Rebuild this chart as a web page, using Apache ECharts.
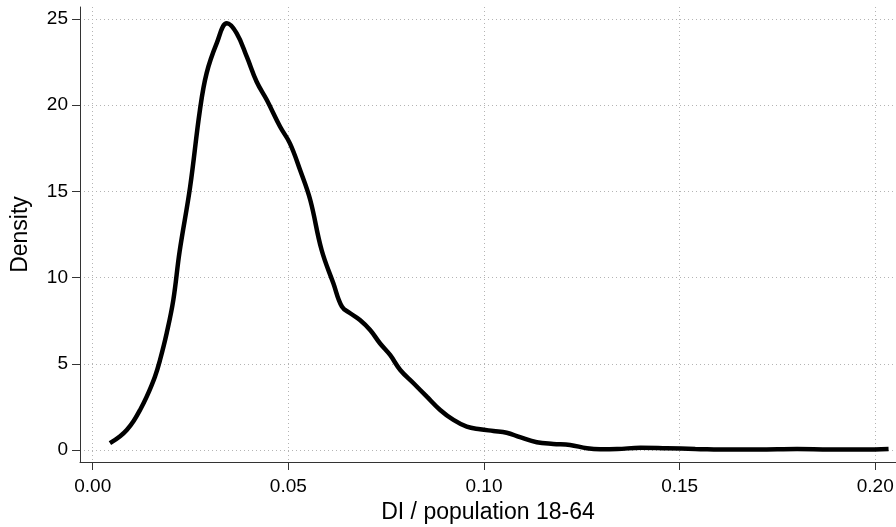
<!DOCTYPE html>
<html>
<head>
<meta charset="utf-8">
<script src="https://cdn.jsdelivr.net/npm/echarts@6/dist/echarts.min.js"></script>
<style>html,body{margin:0;padding:0;background:#fff;}#c{width:896px;height:527px;}</style>
</head>
<body>
<div id="c"></div>
<script>
const xTicks = [0, 0.05, 0.10, 0.15, 0.20];
const yTicks = [0, 5, 10, 15, 20, 25];
const xValues = [0.0044, 0.0070, 0.0087, 0.0105, 0.0121, 0.0138, 0.0159, 0.0172, 0.0189, 0.0206, 0.0222, 0.0249, 0.0274, 0.0291, 0.0317, 0.0343, 0.0368, 0.0394, 0.0419, 0.0445, 0.0479, 0.0504, 0.0530, 0.0556, 0.0585, 0.0615, 0.0637, 0.0658, 0.0683, 0.0709, 0.0734, 0.0760, 0.0786, 0.0820, 0.0854, 0.0888, 0.0922, 0.0956, 0.0990, 0.1024, 0.1058, 0.1092, 0.1135, 0.1177, 0.1220, 0.1263, 0.1297, 0.1340, 0.1400, 0.1467, 0.1540, 0.1630, 0.1700, 0.1800, 0.1885, 0.1970, 0.2034];
const density = [0.39, 0.80, 1.16, 1.70, 2.32, 3.09, 4.25, 5.22, 6.77, 8.70, 11.50, 15.27, 19.72, 21.85, 23.60, 24.75, 24.17, 22.80, 21.36, 20.30, 18.75, 17.79, 16.24, 14.50, 11.60, 9.67, 8.31, 7.93, 7.54, 6.96, 6.19, 5.51, 4.64, 3.87, 3.09, 2.32, 1.74, 1.35, 1.20, 1.10, 1.00, 0.74, 0.45, 0.35, 0.29, 0.10, 0.04, 0.05, 0.13, 0.10, 0.06, 0.02, 0.02, 0.05, 0.02, 0.02, 0.05];

const chart = echarts.init(document.getElementById('c'));
const gridLine = {show: true, lineStyle: {color: '#b4b4b4', type: [1, 3], width: 1}};
chart.setOption({
  animation: false,
  textStyle: {fontFamily: 'Liberation Sans, Arial, sans-serif'},
  grid: {left: 80, right: 0, top: 7, bottom: 65, containLabel: false, outerBoundsMode: 'none'},
  xAxis: {
    type: 'value', min: -0.00325, max: 0.2053,
    name: 'DI / population 18-64', nameLocation: 'middle', nameGap: 38,
    nameTextStyle: {fontSize: 23, color: '#000'},
    axisLine: {show: true, onZero: false, lineStyle: {color: '#333', width: 1}},
    axisTick: {show: true, length: 8, customValues: xTicks, lineStyle: {color: '#333'}},
    axisLabel: {customValues: xTicks, fontSize: 19, color: '#000', margin: 15, formatter: v => v.toFixed(2)},
    splitLine: gridLine
  },
  yAxis: {
    type: 'value', min: -0.7, max: 25.7,
    name: 'Density', nameLocation: 'middle', nameGap: 48, nameRotate: 90,
    nameTextStyle: {fontSize: 23, color: '#000'},
    axisLine: {show: true, onZero: false, lineStyle: {color: '#333', width: 1}},
    axisTick: {show: true, length: 8, customValues: yTicks, lineStyle: {color: '#333'}},
    axisLabel: {customValues: yTicks, fontSize: 19, color: '#000', margin: 12},
    splitLine: gridLine
  },
  series: [{
    type: 'line',
    data: xValues.map((x, i) => [x, density[i]]),
    showSymbol: false,
    smooth: 0.4,
    lineStyle: {color: '#000', width: 4.5},
    clip: false
  }]
});
</script>
</body>
</html>
